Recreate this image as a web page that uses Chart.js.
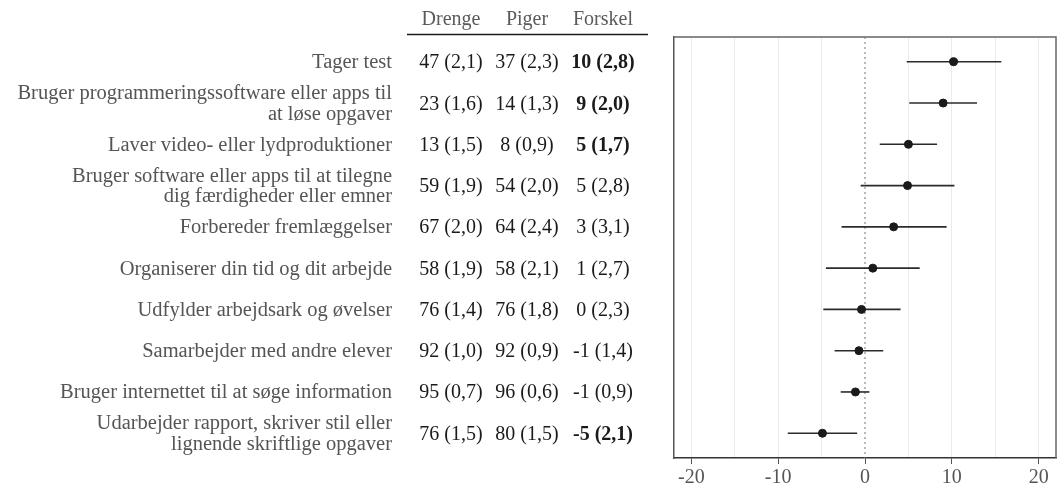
<!DOCTYPE html>
<html>
<head>
<meta charset="utf-8">
<script src="https://cdn.jsdelivr.net/npm/chart.js@4.4.1/dist/chart.umd.min.js"></script>
<style>
  html, body { margin: 0; padding: 0; background: #fff; }
  #wrap { width: 1061px; height: 491px; position: relative; }
</style>
</head>
<body>
<div id="wrap"><canvas id="chart"></canvas></div>
<script>
// activities (top to bottom), "\n" = line break in label
const activities = [
  "Tager test",
  "Bruger programmeringssoftware eller apps til\nat løse opgaver",
  "Laver video- eller lydproduktioner",
  "Bruger software eller apps til at tilegne\ndig færdigheder eller emner",
  "Forbereder fremlæggelser",
  "Organiserer din tid og dit arbejde",
  "Udfylder arbejdsark og øvelser",
  "Samarbejder med andre elever",
  "Bruger internettet til at søge information",
  "Udarbejder rapport, skriver stil eller\nlignende skriftlige opgaver"
];
const columnHeaders = ["Drenge", "Piger", "Forskel"];

// percentages and standard errors
const boys = [47, 23, 13, 59, 67, 58, 76, 92, 95, 76];
const boysSE = [2.1, 1.6, 1.5, 1.9, 2.0, 1.9, 1.4, 1.0, 0.7, 1.5];
const girls = [37, 14, 8, 54, 64, 58, 76, 92, 96, 80];
const girlsSE = [2.3, 1.3, 0.9, 2.0, 2.4, 2.1, 1.8, 0.9, 0.6, 1.5];
const diff = [10, 9, 5, 5, 3, 1, 0, -1, -1, -5];
const diffSE = [2.8, 2.0, 1.7, 2.8, 3.1, 2.7, 2.3, 1.4, 0.9, 2.1];
const significant = [true, true, true, false, false, false, false, false, false, true];

// forest plot: estimate and 95% interval
const estimate = [10.2, 9.0, 5.0, 4.9, 3.3, 0.9, -0.4, -0.7, -1.1, -4.9];
const ciLow = [4.8, 5.1, 1.7, -0.5, -2.7, -4.5, -4.8, -3.5, -2.8, -8.9];
const ciHigh = [15.7, 12.9, 8.3, 10.3, 9.4, 6.3, 4.1, 2.1, 0.5, -0.9];

const xTicks = [-20, -10, 0, 10, 20];

const FONT = "'Liberation Serif', 'Times New Roman', serif";
const fmt = (v, se) => v + " (" + se.toFixed(1).replace(".", ",") + ")";

const tablePlugin = {
  id: "table",
  beforeDatasetsDraw(chart) {
    const { ctx, chartArea: a, scales: { x, y } } = chart;
    ctx.save();
    // frame top + right
    ctx.strokeStyle = "#666";
    ctx.lineWidth = 1.5;
    ctx.beginPath();
    ctx.moveTo(a.left, a.top);
    ctx.lineTo(a.right, a.top);
    ctx.lineTo(a.right, a.bottom);
    ctx.stroke();
    // dotted zero line
    const x0 = x.getPixelForValue(0);
    ctx.strokeStyle = "#777";
    ctx.lineWidth = 1;
    ctx.setLineDash([2, 3]);
    ctx.beginPath();
    ctx.moveTo(x0, a.top);
    ctx.lineTo(x0, a.bottom);
    ctx.stroke();
    ctx.setLineDash([]);
    // interval lines
    ctx.strokeStyle = "#2b2b2b";
    ctx.lineWidth = 1.6;
    estimate.forEach((_, i) => {
      const py = y.getPixelForValue(i + 1);
      ctx.beginPath();
      ctx.moveTo(x.getPixelForValue(ciLow[i]), py);
      ctx.lineTo(x.getPixelForValue(ciHigh[i]), py);
      ctx.stroke();
    });
    ctx.restore();
  },
  afterDraw(chart) {
    const { ctx, scales: { y } } = chart;
    const colX = [451, 527, 603];
    const labelRight = 392;
    ctx.save();
    ctx.textBaseline = "alphabetic";
    // header
    ctx.font = "20px " + FONT;
    ctx.fillStyle = "#5a5a5a";
    ctx.textAlign = "center";
    columnHeaders.forEach((h, j) => ctx.fillText(h, colX[j], 25));
    ctx.strokeStyle = "#1a1a1a";
    ctx.lineWidth = 1.5;
    ctx.beginPath();
    ctx.moveTo(407, 34.5);
    ctx.lineTo(648, 34.5);
    ctx.stroke();

    activities.forEach((label, i) => {
      const py = y.getPixelForValue(i + 1);
      const lines = label.split("\n");
      ctx.font = "20.5px " + FONT;
      ctx.fillStyle = "#555";
      ctx.textAlign = "right";
      lines.forEach((ln, k) => {
        const off = (k - (lines.length - 1) / 2) * 20.5;
        ctx.fillText(ln, labelRight, py + 6.5 + off);
      });
      ctx.textAlign = "center";
      ctx.font = "20px " + FONT;
      ctx.fillStyle = "#1a1a1a";
      ctx.fillText(fmt(boys[i], boysSE[i]), colX[0], py + 6.5);
      ctx.fillText(fmt(girls[i], girlsSE[i]), colX[1], py + 6.5);
      ctx.font = (significant[i] ? "bold " : "") + "20px " + FONT;
      ctx.fillText(fmt(diff[i], diffSE[i]), colX[2], py + 6.5);
    });
    ctx.restore();
  }
};

new Chart(document.getElementById("chart"), {
  type: "scatter",
  data: {
    datasets: [{
      data: estimate.map((v, i) => ({ x: v, y: i + 1 })),
      backgroundColor: "#1a1a1a",
      borderColor: "#1a1a1a",
      pointRadius: 4,
      pointHoverRadius: 4
    }]
  },
  options: {
    responsive: true,
    maintainAspectRatio: false,
    animation: false,
    events: [],
    layout: { padding: { left: 674, right: 5, top: 37, bottom: 0 } },
    plugins: { legend: { display: false }, tooltip: { enabled: false } },
    scales: {
      x: {
        type: "linear",
        min: -22,
        max: 22,
        afterFit: (s) => { s.height = 33; },
        ticks: {
          stepSize: 5,
          includeBounds: false,
          autoSkip: false,
          maxRotation: 0,
          padding: 2,
          color: "#555",
          font: { family: FONT, size: 20 },
          callback: (v) => (xTicks.includes(v) ? String(v) : "")
        },
        grid: {
          color: (c) => (c.tick && c.tick.value === 0 ? "rgba(0,0,0,0)" : "#ebebeb"),
          tickColor: (c) => (c.tick && xTicks.includes(c.tick.value) ? "#555" : "rgba(0,0,0,0)"),
          tickLength: 6,
          lineWidth: 1
        },
        border: { color: "#333", width: 1.5 }
      },
      y: {
        type: "linear",
        min: 0.4,
        max: 10.6,
        reverse: true,
        afterFit: (s) => { s.width = 0; },
        ticks: { display: false },
        grid: { display: false },
        border: { color: "#555", width: 1.5 }
      }
    }
  },
  plugins: [tablePlugin]
});
</script>
</body>
</html>
